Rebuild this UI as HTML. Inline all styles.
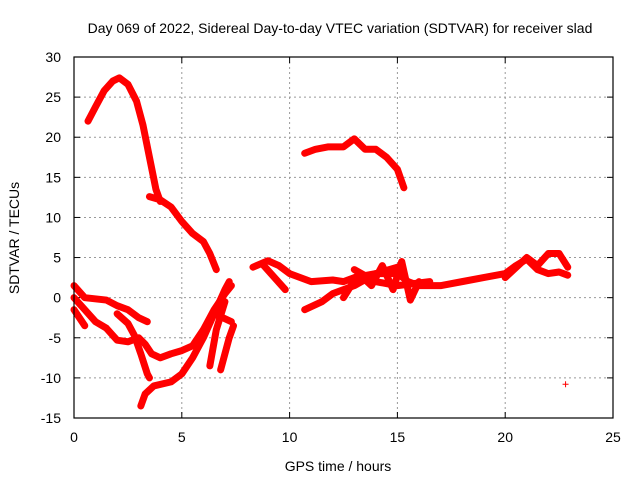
<!DOCTYPE html>
<html><head><meta charset="utf-8"><style>
body{margin:0;background:#fff}
svg{display:block;font-family:"Liberation Sans",sans-serif}
</style></head><body>
<svg id="c" width="640" height="480">
<text x="340" y="33" font-size="14" text-anchor="middle">Day 069 of 2022, Sidereal Day-to-day VTEC variation (SDTVAR) for receiver slad</text>
<text x="338" y="471" font-size="14" text-anchor="middle">GPS time / hours</text>
<text transform="translate(19,238) rotate(-90)" font-size="14" text-anchor="middle">SDTVAR / TECUs</text>
<g id="grid"></g><g id="ticks"></g><g id="series"></g>
<rect x="74" y="57" width="539" height="361" fill="none" stroke="#000" stroke-width="1.2"/>
</svg>
<script>
const xTicks=[0,5,10,15,20,25];
const yTicks=[-15,-10,-5,0,5,10,15,20,25,30];
const s1=[[0.65,22],[1.0,23.8],[1.4,25.8],[1.8,27],[2.1,27.4],[2.5,26.6],[2.9,24.5],[3.2,21.5],[3.5,17.5],[3.8,13.5],[4.0,12]];
const s1b=[[3.5,12.6],[4.0,12.2],[4.5,11.3],[5.0,9.5],[5.5,8],[6.0,7],[6.3,5.5],[6.6,3.5]];
const s2=[[10.7,18],[11.2,18.5],[11.8,18.8],[12.5,18.8],[13.0,19.8],[13.5,18.5],[14.0,18.5],[14.5,17.5],[15.0,16],[15.3,13.7]];
const s3=[[8.3,3.8],[9,4.6],[9.5,4],[10,3],[11,2],[12,2.2],[12.5,2],[13,2.5],[14,3],[15,3],[15.5,2],[16,1.5],[17,1.5],[18,2],[19,2.5],[20,3],[20.5,4],[21,4.8],[21.5,3.5],[22,3],[22.5,3.2],[22.9,2.8]];
const s3b=[[8.8,4],[9.8,1]];
const s3c=[[10.7,-1.5],[11.5,-0.5],[12,0.5],[13,1.5],[14,3],[15,3.8]];
const s3d=[[20,2.5],[21,5],[21.5,4],[22,5.5],[22.5,5.5],[22.9,3.8]];
const s3e=[[12.5,0],[13.2,3],[13.8,1.5],[14.3,4],[14.8,1],[15.2,4.5],[15.6,-0.3],[16,2]];
const s3f=[[13,3.5],[14,2],[15,1.5],[16.5,2]];
const sA=[[0,1.5],[0.5,0],[1.5,-0.3],[2,-1],[2.5,-1.5],[3.0,-2.5],[3.4,-3]];
const sB=[[0,0],[0.5,-1.5],[1,-3],[1.5,-3.8],[2.0,-5.3],[2.5,-5.5],[3,-5],[3.3,-5.8],[3.6,-7],[4,-7.5],[4.5,-7],[5.0,-6.6],[5.5,-6],[6,-4],[6.5,-1.5],[7,0.5],[7.3,1.5]];
const sC=[[0,-1.5],[0.5,-3.5]];
const sD=[[2.0,-2],[2.5,-3.2],[2.8,-4.7],[3.1,-7],[3.4,-9.5],[3.5,-10]];
const sE=[[3.1,-13.5],[3.3,-12],[3.7,-11],[4.5,-10.5],[5,-9.5],[5.5,-7.5],[6,-5],[6.5,-2],[7,1],[7.2,2]];
const sF=[[6.3,-8.5],[6.6,-4],[7,-0.5]];
const sG=[[6.8,-9],[7.2,-5],[7.4,-3.5]];
const sH=[[6.5,-2],[7.3,-3]];
const outlier=[[22.8,-10.8]];
const allSeries=[s1,s1b,s2,s3,s3b,s3c,s3d,s3e,s3f,sA,sB,sC,sD,sE,sF,sG,sH];
const NS="http://www.w3.org/2000/svg";
const X=x=>74+x*539/25, Y=y=>57+(30-y)*361/45;
const g=document.getElementById('grid'),t=document.getElementById('ticks'),s=document.getElementById('series');
function mk(tag,attrs,par){const e=document.createElementNS(NS,tag);for(const k in attrs)e.setAttribute(k,attrs[k]);par.appendChild(e);return e;}
xTicks.forEach(v=>{
 if(v>0&&v<25){const l=mk('line',{x1:X(v),x2:X(v),y1:57,y2:418,stroke:'#999','stroke-dasharray':'2,3'},g);
 
 }
 mk('line',{x1:X(v),x2:X(v),y1:418,y2:412,stroke:'#000'},t);
 mk('line',{x1:X(v),x2:X(v),y1:57,y2:63,stroke:'#000'},t);
 const tx=mk('text',{x:X(v),y:442,'font-size':14,'text-anchor':'middle'},t);tx.textContent=v;
 
 
});
yTicks.forEach(v=>{
 if(v>-15&&v<30){const l=mk('line',{x1:74,x2:613,y1:Y(v),y2:Y(v),stroke:'#999','stroke-dasharray':'2,3'},g);
 
 }
 mk('line',{x1:74,x2:80,y1:Y(v),y2:Y(v),stroke:'#000'},t);
 mk('line',{x1:613,x2:607,y1:Y(v),y2:Y(v),stroke:'#000'},t);
 const tx=mk('text',{x:61,y:Y(v)+5,'font-size':14,'text-anchor':'end'},t);tx.textContent=v;
 
 
});
allSeries.forEach(d=>{
 const p=mk('polyline',{points:d.map(q=>X(q[0])+','+Y(q[1])).join(' '),fill:'none',stroke:'#f00','stroke-width':7,'stroke-linejoin':'round','stroke-linecap':'round'},s);
 
 
});
outlier.forEach(q=>{
 const p=mk('path',{d:`M${X(q[0])-3},${Y(q[1])}h6M${X(q[0])},${Y(q[1])-3}v6`,stroke:'#f00','stroke-width':1},s);
 
 
});
</script>
</body></html>
